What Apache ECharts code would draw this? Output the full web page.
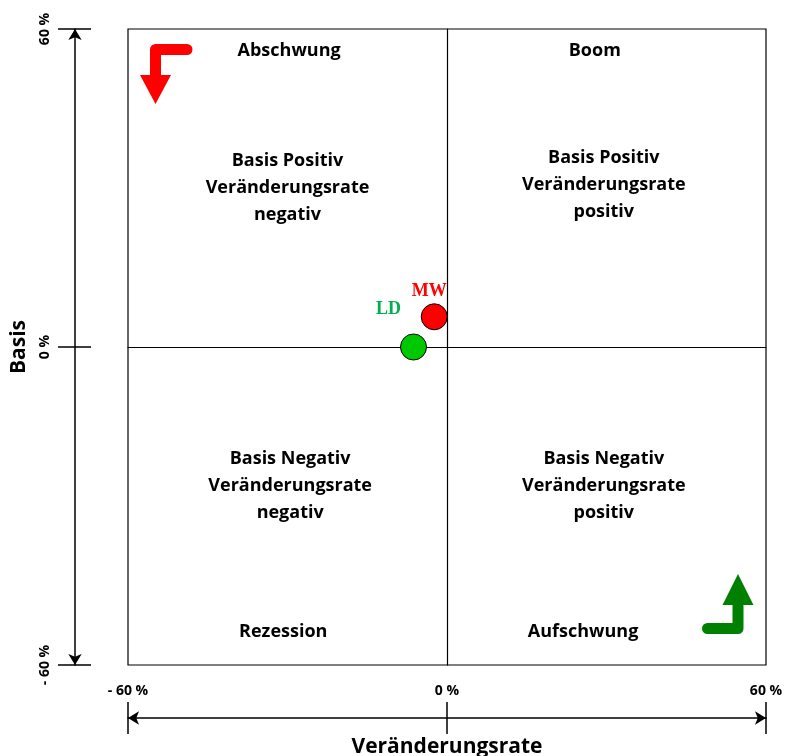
<!DOCTYPE html>
<html>
<head>
<meta charset="utf-8">
<script src="https://cdn.jsdelivr.net/npm/echarts@6/dist/echarts.min.js"></script>
<style>
  html, body { margin: 0; padding: 0; background: #fff; }
  #chart { width: 789px; height: 756px; }
</style>
</head>
<body>
<div id="chart"></div>
<script>
// Daten
var pointNames = ['MW', 'LD'];
var pointX = [-2.4, -6.3];      // Veränderungsrate in %
var pointY = [5.7, 0];          // Basis in %
var pointColors = ['#ff0000', '#00c800'];
var labelColors = ['#ff0000', '#00b050'];

var tickValues = [-60, 0, 60];
var tickLabels = { '-60': '- 60 %', '0': '0 %', '60': '60 %' };

var quadrantTexts = [
    'Basis Positiv\nVeränderungsrate\nnegativ',
    'Basis Positiv\nVeränderungsrate\npositiv',
    'Basis Negativ\nVeränderungsrate\nnegativ',
    'Basis Negativ\nVeränderungsrate\npositiv'
];
var phaseNames = ['Abschwung', 'Boom', 'Rezession', 'Aufschwung'];

var FONT = 'Open Sans';
var chart = echarts.init(document.getElementById('chart'));

function fmt(v) { return tickLabels[String(v)] || ''; }

var outerAxisBase = {
    min: -60, max: 60, interval: 60,
    splitLine: { show: false }
};

option = {
    animation: false,
    grid: {
        left: 128, top: 29, width: 638, height: 636,
        containLabel: false, outerBoundsMode: 'none',
        show: true, borderColor: '#000', borderWidth: 1.2
    },
    xAxis: [
        {
            type: 'value', min: -60, max: 60,
            axisLine: { onZero: true, lineStyle: { color: '#000', width: 1.2 } },
            axisTick: { show: false }, axisLabel: { show: false },
            splitLine: { show: false }
        },
        Object.assign({}, outerAxisBase, {
            type: 'value', position: 'bottom', offset: 53,
            axisLine: { show: true, onZero: false, symbol: ['arrow', 'arrow'], symbolSize: [10, 11],
                lineStyle: { color: '#000', width: 1.5 } },
            axisTick: { show: true, inside: true, length: 16, lineStyle: { color: '#000', width: 1.5 } },
            axisLabel: { show: true, inside: true, margin: 20, formatter: fmt,
                color: '#000', fontFamily: FONT, fontWeight: 'bold', fontSize: 14 }
        }),
        Object.assign({}, outerAxisBase, {
            type: 'value', position: 'bottom', offset: 53,
            axisLine: { show: false, onZero: false },
            axisTick: { show: true, length: 16, lineStyle: { color: '#000', width: 1.5 } },
            axisLabel: { show: false },
            name: 'Veränderungsrate', nameLocation: 'middle', nameGap: 19,
            nameTextStyle: { color: '#000', fontFamily: FONT, fontWeight: 'bold', fontSize: 21,
                verticalAlign: 'top' }
        })
    ],
    yAxis: [
        {
            type: 'value', min: -60, max: 60,
            axisLine: { onZero: true, lineStyle: { color: '#000', width: 1.2 } },
            axisTick: { show: false }, axisLabel: { show: false },
            splitLine: { show: false }
        },
        Object.assign({}, outerAxisBase, {
            type: 'value', position: 'left', offset: 53,
            axisLine: { show: true, onZero: false, symbol: ['arrow', 'arrow'], symbolSize: [10, 11],
                lineStyle: { color: '#000', width: 1.5 } },
            axisTick: { show: true, inside: true, length: 16, lineStyle: { color: '#000', width: 1.5 } },
            axisLabel: { show: true, margin: 23, rotate: 90, formatter: fmt,
                color: '#000', fontFamily: FONT, fontWeight: 'bold', fontSize: 14 }
        }),
        Object.assign({}, outerAxisBase, {
            type: 'value', position: 'left', offset: 53,
            axisLine: { show: false, onZero: false },
            axisTick: { show: true, length: 17, lineStyle: { color: '#000', width: 1.5 } },
            axisLabel: { show: false },
            name: 'Basis', nameLocation: 'middle', nameGap: 45,
            nameTextStyle: { color: '#000', fontFamily: FONT, fontWeight: 'bold', fontSize: 21 }
        })
    ],
    graphic: [
        // roter Pfeil (Abschwung)
        { type: 'polyline', shape: { points: [[187, 49.5], [155.5, 49.5], [155.5, 78]] },
          style: { stroke: '#ff0000', lineWidth: 11, lineCap: 'round', lineJoin: 'round', fill: null } },
        { type: 'polygon', shape: { points: [[140, 75], [171, 75], [155.5, 104]] },
          style: { fill: '#ff0000' } },
        // grüner Pfeil (Aufschwung)
        { type: 'polyline', shape: { points: [[707.5, 628.5], [738, 628.5], [738, 606]] },
          style: { stroke: '#008000', lineWidth: 11, lineCap: 'round', lineJoin: 'round', fill: null } },
        { type: 'polygon', shape: { points: [[722.5, 605], [753.5, 605], [738, 574]] },
          style: { fill: '#008000' } }
    ],
    series: [
        {
            // Quadranten-Beschriftung
            type: 'scatter', symbolSize: 0, silent: true,
            itemStyle: { opacity: 1 },
            label: { show: true, position: 'inside', formatter: '{b}', color: '#000',
                fontFamily: FONT, fontWeight: 'bold', fontSize: 18, lineHeight: 27, align: 'center' },
            data: [
                { name: quadrantTexts[0], value: [-30, 30] },
                { name: quadrantTexts[1], value: [29.5, 30.6] },
                { name: quadrantTexts[2], value: [-29.5, -26.2] },
                { name: quadrantTexts[3], value: [29.5, -26.2] },
                { name: phaseNames[0], value: [-29.7, 55.9] },
                { name: phaseNames[1], value: [27.8, 55.9] },
                { name: phaseNames[2], value: [-30.8, -53.7] },
                { name: phaseNames[3], value: [25.6, -53.7] }
            ]
        },
        {
            type: 'scatter', symbolSize: 26, z: 5,
            itemStyle: { borderColor: '#000', borderWidth: 1, opacity: 1 },
            label: { show: true, position: 'inside', formatter: '{b}',
                fontFamily: 'Liberation Serif', fontWeight: 'bold', fontSize: 18 },
            data: pointNames.map(function (n, i) {
                return {
                    name: n, value: [pointX[i], pointY[i]],
                    itemStyle: { color: pointColors[i] },
                    label: { color: labelColors[i], offset: i === 0 ? [-5, -25] : [-25, -38] }
                };
            })
        }
    ]
};
chart.setOption(option);
</script>
</body>
</html>
